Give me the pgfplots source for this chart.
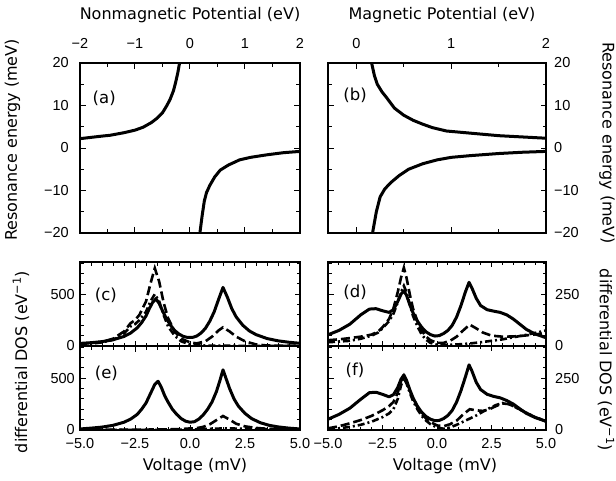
\documentclass[border=0pt]{standalone}
\usepackage{fontspec}
\setmainfont{Liberation Sans}
\newfontfamily\lab{DejaVu Sans}
\usepackage{pgfplots}
\pgfplotsset{compat=1.18}
\pgfplotsset{
  base/.style={scale only axis, tick align=inside,
    axis line style={line width=1.2pt},
    every tick/.style={black, line width=1pt},
    major tick length=5.5pt, minor tick length=3.5pt,
    /pgf/number format/assume math mode=true,
    tick label style={font=\fontsize{14.5}{17}\selectfont}},
  sol/.style={black, line width=3pt, line join=round, no marks},
  das/.style={black, line width=2.6pt, dash pattern=on 9pt off 4pt, no marks},
  dd/.style={black, line width=2.6pt, dash pattern=on 7pt off 3pt on 2pt off 3pt, no marks},
  dos/.style={base, width=220pt, height=84pt, xmin=-5, xmax=5,
    xtick={-5,-2.5,0,2.5,5}, minor x tick num=4},
  dosl/.style={dos, ymin=0, ymax=810, ytick={0,500}, yticklabels={0,500},
    minor ytick={100,200,300,400,600,700,800},
    yticklabel style={anchor=east, inner sep=0pt, xshift=-5pt}},
  dosr/.style={dos, width=218pt, ymin=0, ymax=405, ytick={0,250}, yticklabels={0,250},
    minor ytick={50,100,150,200,300,350,400}, yticklabel pos=right,
    yticklabel style={anchor=west, inner sep=0pt, xshift=9pt}},
  bottomx/.style={xticklabels={−5.0,−2.5,0.0,2.5,5.0},
    xticklabel style={anchor=base, inner sep=0pt, yshift=-18pt}},
}
\newcommand\panellabel[3]{\node[font=\lab\fontsize{16.5}{19}\selectfont] at (rel axis cs:#1,#2) {#3};}
\begin{document}
\begin{tikzpicture}
\useasboundingbox (0,0) rectangle (616pt,-481pt);
\tikzset{biglab/.style={font=\lab\fontsize{16}{19}\selectfont, inner sep=0pt}}

% ---------- (a) ----------
\begin{axis}[base, at={(80pt,-233pt)}, anchor=south west, width=220pt, height=170pt,
  xmin=-2, xmax=2, ymin=-20, ymax=20,
  xtick={-2,-1,0,1,2}, xticklabels={−2,−1,0,1,2}, minor xtick={-1.5,-0.5,0.5,1.5},
  xticklabel pos=upper, xticklabel style={anchor=base, inner sep=0pt, yshift=15pt},
  ytick={-20,-10,0,10,20}, yticklabels={−20,−10,0,10,20}, minor ytick={-15,-5,5,15},
  yticklabel style={anchor=east, inner sep=0pt, xshift=-11pt}]
\addplot[sol] coordinates {(-2,2.2) (-1.8,2.5) (-1.6,2.8) (-1.45,3.0) (-1.2,3.6) (-1.0,4.2) (-0.85,4.9) (-0.7,6.0) (-0.6,7.0) (-0.5,8.3) (-0.42,10) (-0.36,11.5) (-0.3,13.5) (-0.26,15.5) (-0.22,17.8) (-0.19,20) (-0.17,21.5)};
\addplot[sol] coordinates {(0.16,-21) (0.18,-20) (0.22,-16) (0.26,-12.5) (0.3,-10.5) (0.36,-8.8) (0.45,-6.8) (0.55,-5.2) (0.7,-4.0) (0.9,-2.8) (1.1,-2.2) (1.4,-1.6) (1.7,-1.1) (2,-0.8)};
\panellabel{0.11}{0.79}{(a)}
\end{axis}

% ---------- (b) ----------
\begin{axis}[base, at={(328pt,-233pt)}, anchor=south west, width=218pt, height=170pt,
  xmin=-0.3, xmax=2, ymin=-20, ymax=20,
  xtick={0,1,2}, xticklabels={0,1,2}, minor xtick={0.5,1.5},
  xticklabel pos=upper, xticklabel style={anchor=base, inner sep=0pt, yshift=15pt},
  ytick={-20,-10,0,10,20}, yticklabels={−20,−10,0,10,20}, minor ytick={-15,-5,5,15},
  yticklabel pos=right, yticklabel style={anchor=west, inner sep=0pt, xshift=8pt}]
\addplot[sol] coordinates {(0.15,21) (0.16,20) (0.19,17) (0.22,15) (0.27,13.2) (0.32,11.8) (0.4,9.4) (0.5,7.7) (0.6,6.5) (0.7,5.6) (0.8,4.8) (0.95,4.0) (1.1,3.7) (1.3,3.3) (1.5,2.9) (1.75,2.6) (2,2.3)};
\addplot[sol] coordinates {(0.16,-21) (0.17,-20) (0.21,-15) (0.25,-11.5) (0.3,-9.6) (0.37,-8.0) (0.45,-6.5) (0.55,-5.0) (0.7,-3.7) (0.85,-2.8) (1.0,-2.2) (1.2,-1.8) (1.5,-1.3) (1.75,-1.0) (2,-0.8)};
\panellabel{0.124}{0.81}{(b)}
\end{axis}

% ---------- (c) ----------
\begin{axis}[dosl, at={(80pt,-346pt)}, anchor=south west, xticklabel=\empty]
\addplot[sol] coordinates {(-5,25) (-4.5,32) (-4,42) (-3.5,60) (-3,92) (-2.7,125) (-2.4,175) (-2.2,225) (-2,290) (-1.85,360) (-1.7,420) (-1.55,455) (-1.4,410) (-1.25,340) (-1.1,275) (-0.9,205) (-0.7,150) (-0.5,115) (-0.3,92) (-0.1,82) (0.1,82) (0.3,95) (0.5,125) (0.7,170) (0.9,240) (1.1,330) (1.3,450) (1.5,565) (1.7,470) (1.9,360) (2.1,280) (2.4,200) (2.7,145) (3,110) (3.5,72) (4,50) (4.5,36) (5,26)};
\addplot[das] coordinates {(-5,20) (-4.5,28) (-4,40) (-3.5,70) (-3,140) (-2.7,220) (-2.5,250) (-2.3,300) (-2,430) (-1.8,600) (-1.6,750) (-1.4,620) (-1.2,420) (-1,270) (-0.7,140) (-0.4,70) (0,35) (0.3,25) (0.7,45) (1.0,90) (1.3,150) (1.5,180) (1.8,140) (2.1,90) (2.5,45) (3,15) (3.5,5) (4,3) (5,2)};
\addplot[dd] coordinates {(-5,15) (-4.5,22) (-4,35) (-3.5,60) (-3,120) (-2.7,190) (-2.5,210) (-2.3,250) (-2,330) (-1.8,430) (-1.6,500) (-1.4,430) (-1.2,300) (-1,190) (-0.7,100) (-0.4,45) (0,15) (0.5,5) (1,3) (1.5,3) (2,2) (3,1) (5,1)};
\panellabel{0.118}{0.6}{(c)}
\end{axis}

% ---------- (e) ----------
\begin{axis}[dosl, bottomx, at={(80pt,-430pt)}, anchor=south west]
\addplot[sol] coordinates {(-5,10) (-4.5,18) (-4,28) (-3.5,45) (-3,75) (-2.7,105) (-2.4,150) (-2.2,200) (-2,260) (-1.8,350) (-1.6,440) (-1.45,470) (-1.3,410) (-1.15,330) (-1,270) (-0.8,200) (-0.6,150) (-0.4,110) (-0.2,85) (0,75) (0.2,80) (0.4,105) (0.6,145) (0.8,200) (1.0,270) (1.2,370) (1.35,470) (1.5,580) (1.65,490) (1.8,400) (2,300) (2.2,230) (2.5,160) (2.8,110) (3.2,70) (3.6,45) (4,30) (4.5,18) (5,10)};
\addplot[das] coordinates {(-5,2) (-2,4) (-0.5,8) (0,15) (0.3,18) (0.6,30) (0.9,55) (1.2,95) (1.5,135) (1.8,100) (2.1,60) (2.5,35) (3,20) (3.5,12) (4,8) (5,4)};
\addplot[dd] coordinates {(-5,1) (-1,2) (0,5) (0.5,8) (1,12) (1.5,15) (2,14) (3,10) (4,6) (5,3)};
\panellabel{0.12}{0.67}{(e)}
\end{axis}

% ---------- (d) ----------
\begin{axis}[dosr, at={(328pt,-346pt)}, anchor=south west, xticklabel=\empty]
\addplot[sol] coordinates {(-5,54) (-4.5,75) (-4,105) (-3.5,150) (-3.1,178) (-2.8,180) (-2.5,170) (-2.2,162) (-2,175) (-1.8,215) (-1.65,250) (-1.52,266) (-1.4,245) (-1.25,200) (-1.1,160) (-0.9,120) (-0.7,90) (-0.5,68) (-0.3,55) (-0.1,48) (0.1,50) (0.3,60) (0.5,75) (0.7,100) (0.9,140) (1.1,195) (1.3,260) (1.47,307) (1.6,280) (1.8,230) (2.0,195) (2.3,175) (2.6,168) (2.9,162) (3.2,150) (3.5,130) (3.8,105) (4.1,80) (4.5,58) (5,40)};
\addplot[das] coordinates {(-5,28) (-4.5,32) (-4,38) (-3.5,45) (-3,55) (-2.7,70) (-2.5,90) (-2.2,130) (-2,180) (-1.8,260) (-1.65,330) (-1.52,377) (-1.4,330) (-1.25,250) (-1.1,180) (-0.9,120) (-0.7,75) (-0.5,45) (-0.3,28) (0,15) (0.3,15) (0.6,25) (0.9,45) (1.2,75) (1.5,103) (1.8,85) (2.1,65) (2.5,50) (3,45) (3.5,46) (4,50) (4.5,56) (5,62)};
\addplot[dd] coordinates {(-5,18) (-4,25) (-3.5,35) (-3,50) (-2.7,65) (-2.5,85) (-2.2,120) (-2,155) (-1.8,210) (-1.65,260) (-1.52,290) (-1.4,260) (-1.25,200) (-1.1,145) (-0.9,95) (-0.7,55) (-0.5,30) (-0.3,15) (0,6) (0.5,5) (1,8) (1.5,12) (2,18) (2.5,25) (3,32) (3.5,42) (4,52) (4.5,63) (5,75)};
\panellabel{0.124}{0.64}{(d)}
\end{axis}

% ---------- (f) ----------
\begin{axis}[dosr, bottomx, at={(328pt,-430pt)}, anchor=south west]
\addplot[sol] coordinates {(-5,52) (-4.5,75) (-4,105) (-3.5,148) (-3.1,180) (-2.8,182) (-2.5,172) (-2.2,160) (-2,170) (-1.8,205) (-1.65,245) (-1.52,265) (-1.4,240) (-1.25,195) (-1.1,155) (-0.9,115) (-0.7,85) (-0.5,65) (-0.3,52) (-0.1,45) (0.1,46) (0.3,55) (0.5,70) (0.7,95) (0.9,135) (1.1,190) (1.3,255) (1.47,314) (1.6,285) (1.8,230) (2.0,195) (2.3,172) (2.6,162) (2.9,155) (3.2,142) (3.5,125) (3.8,102) (4.1,80) (4.5,60) (5,42)};
\addplot[das] coordinates {(-5,8) (-4.5,18) (-4,32) (-3.5,48) (-3,68) (-2.5,95) (-2.2,115) (-2,135) (-1.8,180) (-1.65,235) (-1.52,262) (-1.4,235) (-1.25,190) (-1.1,150) (-0.9,110) (-0.7,78) (-0.5,55) (-0.3,38) (0,22) (0.3,18) (0.6,28) (0.9,45) (1.2,75) (1.5,100) (1.8,95) (2.1,92) (2.4,100) (2.7,115) (3,128) (3.3,125) (3.6,110) (4,88) (4.5,62) (5,42)};
\addplot[dd] coordinates {(-5,4) (-4.5,8) (-4,15) (-3.5,25) (-3,40) (-2.5,62) (-2.2,80) (-2,100) (-1.8,150) (-1.65,215) (-1.52,250) (-1.4,225) (-1.25,180) (-1.1,140) (-0.9,100) (-0.7,68) (-0.5,45) (-0.3,28) (0,12) (0.3,6) (0.6,12) (0.9,25) (1.2,40) (1.5,55) (1.8,70) (2.1,88) (2.4,105) (2.7,120) (3,130) (3.3,125) (3.6,110) (4,88) (4.5,62) (5,42)};
\panellabel{0.124}{0.71}{(f)}
\end{axis}

% ---------- shared labels ----------
\node[biglab, anchor=base] at (190pt,-19.5pt) {Nonmagnetic Potential (eV)};
\node[biglab, anchor=base] at (442pt,-19.5pt) {Magnetic Potential (eV)};
\node[biglab, rotate=90] at (12.5pt,-140pt) {Resonance energy (meV)};
\node[biglab, rotate=-90] at (607pt,-143pt) {Resonance energy (meV)};
\node[biglab, rotate=90] at (21pt,-362pt) {differential DOS (eV\textsuperscript{−1})};
\node[biglab, rotate=-90] at (606pt,-360pt) {differential DOS (eV\textsuperscript{−1})};
\node[biglab, anchor=base] at (195pt,-470pt) {Voltage (mV)};
\node[biglab, anchor=base] at (445pt,-470pt) {Voltage (mV)};
\end{tikzpicture}
\end{document}
